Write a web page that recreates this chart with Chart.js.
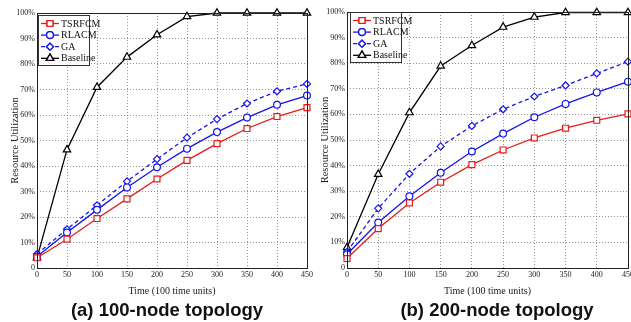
<!DOCTYPE html>
<html>
<head>
<meta charset="utf-8">
<script src="https://cdn.jsdelivr.net/npm/chart.js@4.4.1/dist/chart.umd.min.js"></script>
<style>
  html, body { margin: 0; padding: 0; background: #fff; overflow: hidden; }
  body { width: 631px; height: 322px; position: relative; }
  .pane { position: absolute; top: 0; }
  .caption {
    position: absolute; top: 300px; height: 20px; line-height: 20px;
    font-family: "Liberation Sans", Arial, sans-serif; font-weight: bold;
    font-size: 18.5px; color: #111; white-space: nowrap; transform: translateX(-50%);
  }
</style>
</head>
<body>
<div class="pane" style="left:0px;width:315px;height:300px"><canvas id="chartA" width="315" height="300"></canvas></div>
<div class="pane" style="left:310px;width:326px;height:300px"><canvas id="chartB" width="326" height="300"></canvas></div>
<div class="caption" style="left:167px">(a) 100-node topology</div>
<div class="caption" style="left:497px">(b) 200-node topology</div>
<script>
// time axis (100 time units)
const times = [0, 50, 100, 150, 200, 250, 300, 350, 400, 450]
const seriesNames = ['TSRFCM', 'RLACM', 'GA', 'Baseline']

// (a) 100-node topology, utilization %
const tsrfcmA = [4.0, 11.3, 19.4, 27.1, 34.9, 42.2, 48.8, 54.7, 59.4, 62.9]
const rlacmA = [4.5, 13.9, 22.8, 31.6, 39.5, 46.8, 53.3, 59.0, 64.0, 67.6]
const gaA = [5.5, 15.2, 24.6, 34.0, 42.7, 51.1, 58.4, 64.5, 69.3, 72.2]
const baselineA = [4.0, 46.4, 70.9, 82.7, 91.5, 98.6, 100, 100, 100, 100]

// (b) 200-node topology
const tsrfcmB = [3.7, 15.4, 25.4, 33.5, 40.4, 46.1, 50.8, 54.6, 57.7, 60.2]
const rlacmB = [5.4, 17.8, 28.0, 37.2, 45.5, 52.5, 58.9, 64.1, 68.6, 72.8]
const gaB = [6.3, 23.3, 36.8, 47.5, 55.5, 62.0, 67.0, 71.3, 76.0, 80.6]
const baselineB = [8.0, 36.6, 60.7, 78.9, 86.9, 94.1, 98.0, 99.8, 99.8, 99.8]

const styles = [
  { color: 'rgb(228, 28, 28)', pointStyle: 'rect', radius: 4.2, dash: [] },
  { color: 'rgb(20, 20, 235)', pointStyle: 'circle', radius: 3.4, dash: [] },
  { color: 'rgb(20, 20, 235)', pointStyle: 'rectRot', radius: 3.5, dash: [4, 3] },
  { color: 'rgb(0, 0, 0)', pointStyle: 'triangle', radius: 4.3, dash: [] }
]

const serif = '"Liberation Serif", "Times New Roman", serif'

function toPoints(values) {
  return values.map((v, i) => ({ x: times[i], y: v }))
}

// frame around the plot area + legend inside top-left corner
const framePlugin = {
  id: 'frame',
  afterDatasetsDraw(chart, args, opts) {
    const { ctx, chartArea } = chart
    ctx.save()
    ctx.strokeStyle = '#222'
    ctx.lineWidth = 1
    ctx.strokeRect(chartArea.left + 0.5, chartArea.top + 0.5, chartArea.width, chartArea.height)

    // legend
    const bx = chartArea.left + opts.dx
    const by = chartArea.top + opts.dy
    const bw = 51, bh = 50
    ctx.fillStyle = '#fff'
    ctx.fillRect(bx, by, bw, bh)
    ctx.strokeStyle = '#333'
    ctx.strokeRect(bx + 0.5, by + 0.5, bw, bh)
    ctx.font = '10px ' + serif
    ctx.textBaseline = 'middle'
    chart.data.datasets.forEach((ds, i) => {
      const y = by + 8.5 + i * 11.6
      ctx.strokeStyle = ds.borderColor
      ctx.lineWidth = 1.3
      ctx.setLineDash(ds.borderDash || [])
      ctx.beginPath()
      ctx.moveTo(bx + 3, y)
      ctx.lineTo(bx + 21, y)
      ctx.stroke()
      ctx.setLineDash([])
      ctx.fillStyle = '#fff'
      Chart.helpers.drawPoint(ctx, {
        pointStyle: ds.pointStyle, radius: ds.pointRadius, borderWidth: 1.2, rotation: 0
      }, bx + 12, y)
      ctx.fill()
      ctx.stroke()
      ctx.fillStyle = '#111'
      ctx.fillText(ds.label, bx + 23, y + 0.5)
    })
    ctx.restore()
  }
}

function makeChart(canvasId, values, padRight, padTop, legendOffset) {
  const ctx = document.getElementById(canvasId).getContext('2d')
  return new Chart(ctx, {
    type: 'line',
    data: {
      datasets: values.map((vals, i) => ({
        label: seriesNames[i],
        data: toPoints(vals),
        borderColor: styles[i].color,
        borderWidth: 1.3,
        borderDash: styles[i].dash,
        pointStyle: styles[i].pointStyle,
        pointRadius: styles[i].radius,
        pointBorderWidth: 1.2,
        pointBackgroundColor: '#fff',
        pointBorderColor: styles[i].color,
        tension: 0,
        clip: false
      }))
    },
    options: {
      responsive: false,
      animation: false,
      layout: { padding: { left: 0, right: padRight, top: padTop, bottom: 0 } },
      plugins: {
        legend: { display: false },
        tooltip: { enabled: false },
        frame: legendOffset
      },
      scales: {
        x: {
          type: 'linear',
          min: 0,
          max: 450,
          afterFit: scale => { scale.height = 32 },
          ticks: {
            stepSize: 50,
            padding: 2,
            maxRotation: 0,
            color: '#222',
            font: { family: serif, size: 8 }
          },
          grid: { color: '#7a7a7a', lineWidth: 0.8, drawTicks: false },
          border: { display: false, dash: [1, 2] },
          title: {
            display: true,
            text: 'Time (100 time units)',
            color: '#222',
            font: { family: serif, size: 10 },
            padding: { top: 0, bottom: 3 }
          }
        },
        y: {
          min: 0,
          max: 100,
          afterFit: scale => { scale.width = 37 },
          ticks: {
            stepSize: 10,
            padding: 2,
            color: '#222',
            font: { family: serif, size: 8 },
            callback: v => v === 0 ? '0' : v + '%'
          },
          grid: { color: '#7a7a7a', lineWidth: 0.8, drawTicks: false },
          border: { display: false, dash: [1, 2] },
          title: {
            display: true,
            text: 'Resource Utilization',
            color: '#222',
            font: { family: serif, size: 10.5 },
            padding: { top: 9, bottom: 0 }
          }
        }
      }
    },
    plugins: [framePlugin]
  })
}

makeChart('chartA', [tsrfcmA, rlacmA, gaA, baselineA], 8, 13, { dx: 1, dy: 2 })
makeChart('chartB', [tsrfcmB, rlacmB, gaB, baselineB], 8, 12, { dx: 3, dy: 0 })
</script>
</body>
</html>
